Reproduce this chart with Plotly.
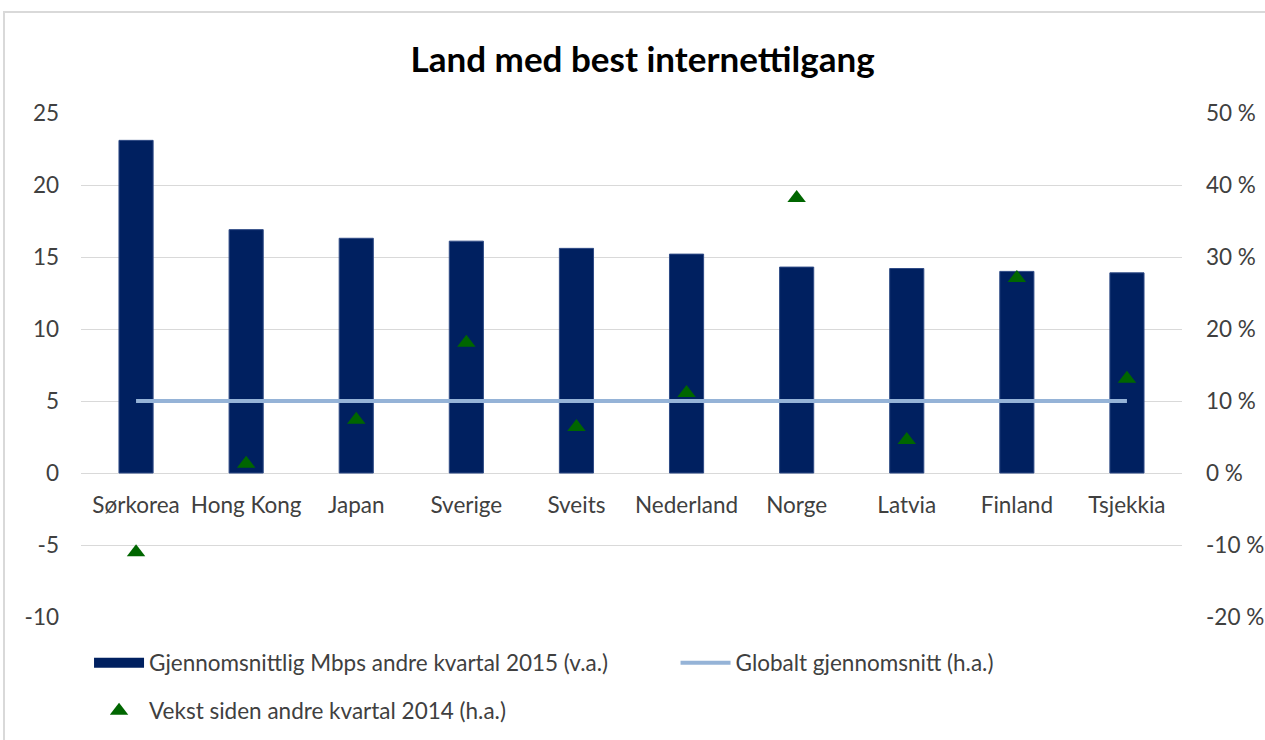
import plotly.graph_objects as go

countries = ["Sørkorea", "Hong Kong", "Japan", "Sverige", "Sveits", "Nederland", "Norge", "Latvia", "Finland", "Tsjekkia"]
mbps = [23.1, 16.9, 16.3, 16.1, 15.6, 15.2, 14.3, 14.2, 14.0, 13.9]
growth_pct = [-11.0, 1.3, 7.4, 18.1, 6.4, 11.1, 38.2, 4.6, 27.1, 13.1]
global_avg_pct = [10, 10, 10, 10, 10, 10, 10, 10, 10, 10]

left_ticks = [-10, -5, 0, 5, 10, 15, 20, 25]
left_labels = ["-10", "-5", "0", "5", "10", "15", "20", "25"]
right_ticks = [-20, -10, 0, 10, 20, 30, 40, 50]
right_labels = ["-20 %", "-10 %", "0 %", "10 %", "20 %", "30 %", "40 %", "50 %"]

FONT = "Lato"
TXT = "#404040"
FS = 22.5
BAR_COLOR = "#002060"

fig = go.Figure()
fig.add_trace(go.Bar(
    x=countries, y=mbps, name="Gjennomsnittlig Mbps andre kvartal 2015 (v.a.)",
    marker=dict(color=BAR_COLOR, line=dict(color="#2f4b86", width=1)),
    yaxis="y", xaxis="x", showlegend=False,
))
# legend-only entry to show a wide bar swatch like the original
fig.add_trace(go.Scatter(
    x=[None], y=[None], name="Gjennomsnittlig Mbps andre kvartal 2015 (v.a.)",
    mode="lines", line=dict(color=BAR_COLOR, width=12), legend="legend",
))
fig.add_trace(go.Scatter(
    x=countries, y=global_avg_pct, name="Globalt gjennomsnitt (h.a.)",
    mode="lines", line=dict(color="#95b3d7", width=4), yaxis="y2", xaxis="x",
    legend="legend2",
))
fig.add_trace(go.Scatter(
    x=countries, y=growth_pct, name="Vekst siden andre kvartal 2014 (h.a.)",
    mode="markers", marker=dict(symbol="triangle-up", color="#006600", size=16),
    yaxis="y2", xaxis="x", legend="legend3",
))

leg_common = dict(orientation="h", xanchor="left", yanchor="middle", itemwidth=50,
                  font=dict(family=FONT, size=FS, color=TXT), bgcolor="rgba(0,0,0,0)")
row1 = -(663 - 617) / 504
row2 = -(711 - 617) / 504

fig.update_layout(
    width=1265, height=740,
    paper_bgcolor="white", plot_bgcolor="white",
    margin=dict(l=81, r=83, t=113, b=123, autoexpand=False),
    font=dict(family=FONT, size=FS, color=TXT),
    title=dict(text="<b>Land med best internettilgang</b>", x=0.508, xanchor="center",
               y=1 - 60 / 740, yanchor="middle", font=dict(family=FONT, size=35, color="#000000")),
    bargap=0.69,
    showlegend=True,
    legend=dict(x=0.0073, y=row1, **leg_common),
    legend2=dict(x=0.540, y=row1, **leg_common),
    legend3=dict(x=0.0073, y=row2, **leg_common),
    xaxis=dict(anchor="free", position=10 / 35, showline=False, showgrid=False, automargin=False,
               ticks="", tickfont=dict(family=FONT, size=FS, color=TXT),
               ticklabelstandoff=16, range=[-0.5, 9.5]),
    yaxis=dict(range=[-10, 25], tickvals=left_ticks, ticktext=left_labels, showgrid=True,
               gridcolor="#d9d9d9", gridwidth=1, zeroline=False, showline=False, ticks="",
               automargin=False, tickfont=dict(family=FONT, size=FS, color=TXT),
               ticklabelstandoff=21),
    yaxis2=dict(range=[-20, 50], tickvals=right_ticks, ticktext=right_labels, overlaying="y",
                side="right", showgrid=False, zeroline=False, showline=False, ticks="",
                automargin=False, tickfont=dict(family=FONT, size=FS, color=TXT),
                ticklabelstandoff=23),
    shapes=[dict(type="rect", xref="paper", yref="paper", x0=(4 - 81) / 1101, x1=1.5,
                 y0=-0.5, y1=(617 - 12) / 504, line=dict(color="#d9d9d9", width=2),
                 layer="below")],
)

fig.write_html("out.html", config={"displayModeBar": False},
               post_script="document.body.style.margin='0px';")
